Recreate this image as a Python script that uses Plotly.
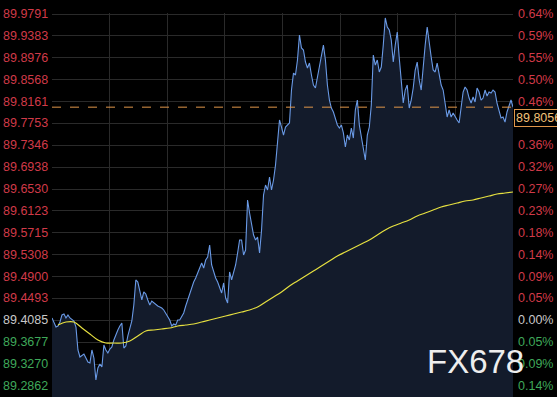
import plotly.graph_objects as go

# ---------------- data ----------------
price = [
    89.4129, 89.4054, 89.3961, 89.3980, 89.4054, 89.4185, 89.4203, 89.4129, 89.4185, 89.4129,
    89.4091, 89.4073, 89.3961, 89.3533, 89.3402, 89.3440, 89.3458, 89.3384, 89.3309, 89.3291,
    89.3533, 89.3384, 89.2974, 89.3197, 89.3272, 89.3216, 89.3626, 89.3533, 89.3477, 89.3551,
    89.3589, 89.3719, 89.3831, 89.3905, 89.3980, 89.4036, 89.3570, 89.3607, 89.3794, 89.3961,
    89.4073, 89.4371, 89.4837, 89.4799, 89.4650, 89.4464, 89.4613, 89.4576, 89.4464, 89.4371,
    89.4445, 89.4408, 89.4371, 89.4352, 89.4334, 89.4315, 89.4278, 89.4222, 89.4147, 89.4091,
    89.3980, 89.4017, 89.3998, 89.4091, 89.4091, 89.4166, 89.4222, 89.4352, 89.4464, 89.4594,
    89.4706, 89.4799, 89.4874, 89.4967, 89.5060, 89.5153, 89.5060, 89.5209, 89.5265, 89.5488,
    89.5116, 89.4967, 89.4874, 89.4799, 89.4706, 89.4594, 89.4781, 89.4501, 89.4408, 89.4986,
    89.4837, 89.4986, 89.5116, 89.5339, 89.5582, 89.5582, 89.5302, 89.5395, 89.6327, 89.6084,
    89.5861, 89.5675, 89.5582, 89.5637, 89.5339, 89.5768, 89.6420, 89.6606, 89.6513, 89.6755,
    89.6513, 89.6699, 89.6979, 89.7444, 89.7817, 89.7686, 89.7537, 89.7686, 89.7724, 89.7761,
    89.8375, 89.8692, 89.8655, 89.8934, 89.9400, 89.9158, 89.9121, 89.8897, 89.8785, 89.8878,
    89.8655, 89.8469, 89.8413, 89.8599, 89.8785, 89.9027, 89.9214, 89.8934, 89.8469, 89.8189,
    89.8040, 89.7966, 89.7817, 89.7724, 89.7668, 89.7724, 89.7575, 89.7314, 89.7537, 89.7444,
    89.7668, 89.7481, 89.8003, 89.8189, 89.7724, 89.7481, 89.7258, 89.7072, 89.7537, 89.7686,
    89.8096, 89.9027, 89.8841, 89.8934, 89.8711, 89.8804, 89.9214, 89.9717, 89.9549, 89.9493,
    89.9307, 89.8897, 89.9214, 89.9456, 89.8972, 89.8469, 89.8133, 89.8375, 89.8469, 89.8040,
    89.8189, 89.8413, 89.8748, 89.8897, 89.8562, 89.8375, 89.8841, 89.9214, 89.9549, 89.9214,
    89.8990, 89.8748, 89.8711, 89.8878, 89.8655, 89.8469, 89.8375, 89.8096, 89.7873, 89.8003,
    89.7873, 89.7947, 89.7873, 89.7817, 89.7761, 89.8040, 89.8338, 89.8431, 89.8375, 89.8226,
    89.8133, 89.8245, 89.8152, 89.8413, 89.8338, 89.8189, 89.8226, 89.8375, 89.8264, 89.8338,
    89.8320, 89.8375, 89.8338, 89.8133, 89.7966, 89.7854, 89.7873, 89.7779, 89.7966, 89.8096,
    89.8189, 89.8056,
]

# moving average, sampled every 4th point starting at point 3
ma_start = 3
ma_step = 4
ma = [
    89.3998, 89.4054, 89.4054, 89.3942, 89.3831, 89.3719, 89.3663, 89.3663, 89.3663, 89.3700,
    89.3794, 89.3887, 89.3905, 89.3924, 89.3942, 89.3980, 89.3998, 89.4017, 89.4054, 89.4091,
    89.4129, 89.4166, 89.4203, 89.4241, 89.4278, 89.4334, 89.4427, 89.4520, 89.4613, 89.4725,
    89.4818, 89.4911, 89.5004, 89.5097, 89.5190, 89.5284, 89.5358, 89.5433, 89.5507, 89.5582,
    89.5675, 89.5768, 89.5842, 89.5898, 89.5954, 89.6029, 89.6084, 89.6140, 89.6196, 89.6233,
    89.6271, 89.6308, 89.6327, 89.6364, 89.6401, 89.6438, 89.6457, 89.6476,
]

ref_price = 89.4085
last_price = 89.8056

tick_vals = [89.9791, 89.9383, 89.8976, 89.8568, 89.8161, 89.7753, 89.7346, 89.6938, 89.6530,
             89.6123, 89.5715, 89.5308, 89.4900, 89.4493, 89.4085, 89.3677, 89.3270, 89.2862]
tick_text = ["89.9791", "89.9383", "89.8976", "89.8568", "89.8161", "89.7753", "89.7346",
             "89.6938", "89.6530", "89.6123", "89.5715", "89.5308", "89.4900", "89.4493",
             "89.4085", "89.3677", "89.3270", "89.2862"]
pct_text = ["0.64%", "0.59%", "0.55%", "0.50%", "0.46%", "0.41%", "0.36%", "0.32%", "0.27%",
            "0.23%", "0.18%", "0.14%", "0.09%", "0.05%", "0.00%", "0.05%", "0.09%", "0.14%"]

# ---------------- styling ----------------
RED = "#d03a48"
GREEN = "#3fa85a"
NEUTRAL = "#c8c8c8"
FONT = "Liberation Sans, Arial, sans-serif"

n = len(price)
x = list(range(n))
ma_x = [ma_start + ma_step * k for k in range(len(ma))]

fig = go.Figure()
fig.add_trace(go.Scatter(
    x=x, y=price, mode="lines",
    line=dict(color="#6a9ae6", width=1.1),
    fill="tozeroy", fillcolor="#131b2b",
    hoverinfo="skip",
))
fig.add_trace(go.Scatter(
    x=ma_x, y=ma, mode="lines",
    line=dict(color="#e6e040", width=1.2, shape="spline"),
    hoverinfo="skip",
))

annotations = []
for v, t, p in zip(tick_vals, tick_text, pct_text):
    if abs(v - ref_price) < 1e-6:
        c = NEUTRAL
    elif v > ref_price:
        c = RED
    else:
        c = GREEN
    annotations.append(dict(xref="paper", yref="y", x=0, y=v, text=t, showarrow=False,
                            xanchor="right", yanchor="middle", xshift=-2,
                            font=dict(family=FONT, size=12.5, color=c)))
    if t == "89.7753":
        continue
    annotations.append(dict(xref="paper", yref="y", x=1, y=v, text=p, showarrow=False,
                            xanchor="left", yanchor="middle", xshift=3,
                            font=dict(family=FONT, size=12.5, color=c)))

# last price label box
annotations.append(dict(xref="paper", yref="y", x=1, y=last_price, text=f"{last_price:.4f}",
                        showarrow=False, xanchor="left", yanchor="middle", xshift=1, yshift=-11,
                        bgcolor="#000000", bordercolor="#e0964a", borderwidth=1, borderpad=1,
                        font=dict(family=FONT, size=12.5, color="#f2c27a")))
# watermark
annotations.append(dict(xref="paper", yref="paper", x=0.918, y=0.093, text="FX678",
                        showarrow=False, xanchor="center", yanchor="middle",
                        font=dict(family=FONT, size=33, color="#eeeeee")))

shapes = [dict(type="line", xref="paper", yref="y", x0=0, x1=1, y0=last_price, y1=last_price,
               line=dict(color="#e0964a", width=1, dash="dash"))]

fig.update_layout(
    width=557, height=397,
    margin=dict(l=52, r=44, t=13, b=0),
    paper_bgcolor="#000000", plot_bgcolor="#000000",
    showlegend=False,
    annotations=annotations, shapes=shapes,
    xaxis=dict(range=[0, n - 1], tickvals=[k * (n - 1) / 8 for k in range(9)],
               showticklabels=False, showgrid=True, gridcolor="#2a2a2a", gridwidth=1,
               zeroline=False, showline=False, ticks=""),
    yaxis=dict(range=[89.2657, 89.9810], tickvals=tick_vals, showticklabels=False,
               showgrid=True, gridcolor="#2a2a2a", gridwidth=1, zeroline=False,
               showline=False, ticks=""),
)

fig.write_html("out.html")
